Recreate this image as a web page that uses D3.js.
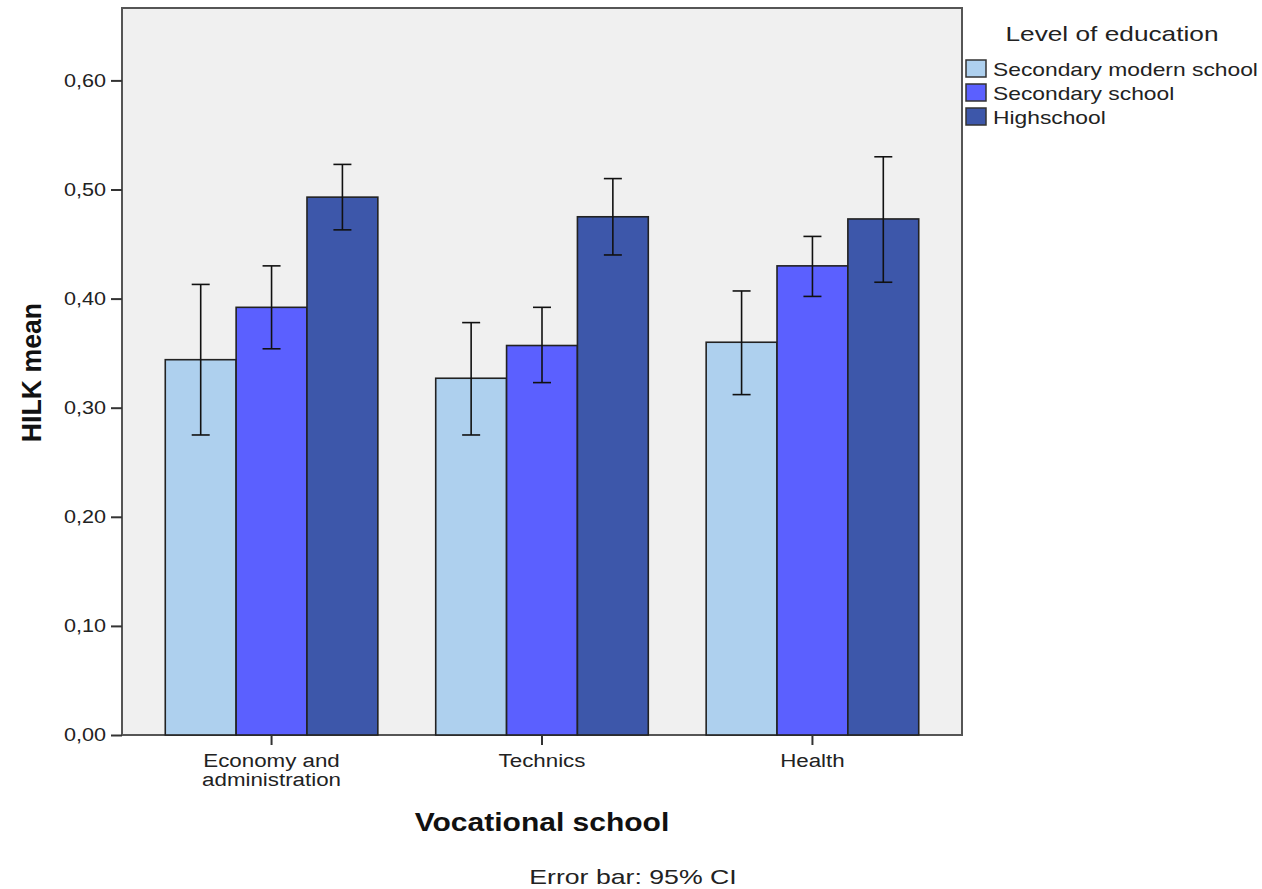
<!DOCTYPE html>
<html>
<head>
<meta charset="utf-8">
<script src="https://cdn.jsdelivr.net/npm/d3@7"></script>
<style>
  body { margin: 0; background: #fff; }
  svg { display: block; font-family: "Liberation Sans", Arial, sans-serif; }
</style>
</head>
<body>
<div id="chart"></div>
<script>
// chart data
var categories = ["Economy and administration", "Technics", "Health"];
var categoryLines = [["Economy and", "administration"], ["Technics"], ["Health"]];
var levels = ["Secondary modern school", "Secondary school", "Highschool"];
var colors = ["#aed0ee", "#5b60ff", "#3d57aa"];

// means per level, one value per category
var meanModern = [0.344, 0.327, 0.360];
var meanSecondary = [0.392, 0.357, 0.430];
var meanHigh = [0.493, 0.475, 0.473];
// 95% CI lower / upper
var lowModern = [0.275, 0.275, 0.312];
var highModern = [0.413, 0.378, 0.407];
var lowSecondary = [0.354, 0.323, 0.402];
var highSecondary = [0.430, 0.392, 0.457];
var lowHigh = [0.463, 0.440, 0.415];
var highHigh = [0.523, 0.510, 0.530];

var yTicks = [0, 0.1, 0.2, 0.3, 0.4, 0.5, 0.6];

var means = [meanModern, meanSecondary, meanHigh];
var lows = [lowModern, lowSecondary, lowHigh];
var highs = [highModern, highSecondary, highHigh];

var data = [];
categories.forEach(function(c, ci) {
  levels.forEach(function(l, li) {
    data.push({cat: c, level: l, li: li, mean: means[li][ci], lo: lows[li][ci], hi: highs[li][ci]});
  });
});

var W = 1262, H = 889;
var plot = {left: 122, right: 962, top: 8, bottom: 735};

// the original text is drawn wide, widen ours the same way
function stretch(sel, k) {
  sel.each(function() {
    var len = this.getComputedTextLength();
    d3.select(this).attr("textLength", len * k).attr("lengthAdjust", "spacingAndGlyphs");
  });
}

var svg = d3.select("#chart").append("svg")
  .attr("width", W).attr("height", H);

var x = d3.scaleBand()
  .domain(categories)
  .range([plot.left, plot.right])
  .paddingInner(0.214)
  .paddingOuter(0.16);
var xi = d3.scaleBand()
  .domain(levels)
  .range([0, x.bandwidth()]);
var y = d3.scaleLinear()
  .domain([0, 0.6])
  .range([plot.bottom, plot.bottom - 6 * 109.1]);

var fmt = d3.formatLocale({decimal: ",", thousands: ".", grouping: [3], currency: ["", ""]}).format(".2f");

// plot background
svg.append("rect")
  .attr("x", plot.left).attr("y", plot.top)
  .attr("width", plot.right - plot.left)
  .attr("height", plot.bottom - plot.top)
  .attr("fill", "#f0f0f0")
  .attr("stroke", "#555").attr("stroke-width", 2);

// bars
svg.append("g").selectAll("rect")
  .data(data)
  .enter().append("rect")
  .attr("x", function(d) { return x(d.cat) + xi(d.level); })
  .attr("y", function(d) { return y(d.mean); })
  .attr("width", xi.bandwidth())
  .attr("height", function(d) { return y(0) - y(d.mean); })
  .attr("fill", function(d) { return colors[d.li]; })
  .attr("stroke", "#222").attr("stroke-width", 1.6);

// error bars
var eb = svg.append("g").attr("stroke", "#111").attr("stroke-width", 1.6)
  .selectAll("g").data(data).enter().append("g")
  .attr("transform", function(d) { return "translate(" + (x(d.cat) + xi(d.level) + xi.bandwidth() / 2) + ",0)"; });
eb.append("line")
  .attr("x1", 0).attr("x2", 0)
  .attr("y1", function(d) { return y(d.lo); })
  .attr("y2", function(d) { return y(d.hi); });
eb.append("line")
  .attr("x1", -9).attr("x2", 9)
  .attr("y1", function(d) { return y(d.hi); })
  .attr("y2", function(d) { return y(d.hi); });
eb.append("line")
  .attr("x1", -9).attr("x2", 9)
  .attr("y1", function(d) { return y(d.lo); })
  .attr("y2", function(d) { return y(d.lo); });

// y axis
var yAxis = svg.append("g")
  .attr("transform", "translate(" + plot.left + ",0)")
  .call(d3.axisLeft(y).tickValues(yTicks).tickFormat(fmt).tickSize(11).tickPadding(5));
yAxis.select(".domain").remove();
yAxis.selectAll("line").attr("stroke", "#333").attr("stroke-width", 2);
yAxis.selectAll("text").attr("font-size", 18).attr("fill", "#222")
  .attr("font-family", "\"Liberation Sans\", Arial, sans-serif")
  .call(stretch, 1.2);

// x axis
var xAxis = svg.append("g")
  .attr("transform", "translate(0," + plot.bottom + ")")
  .call(d3.axisBottom(x).tickSize(10).tickFormat(""));
xAxis.select(".domain").remove();
xAxis.selectAll("line").attr("stroke", "#333").attr("stroke-width", 2);
var xl = svg.append("g").selectAll("g")
  .data(categories).enter().append("g");
xl.selectAll("text")
  .data(function(d, i) { return categoryLines[i].map(function(t) { return {cat: d, t: t}; }); })
  .enter().append("text")
  .attr("x", function(d) { return x(d.cat) + x.bandwidth() / 2; })
  .attr("y", function(d, i) { return plot.bottom + 32 + i * 19; })
  .attr("text-anchor", "middle")
  .attr("font-size", 18).attr("fill", "#222")
  .text(function(d) { return d.t; })
  .call(stretch, 1.24);

// axis titles
svg.append("text")
  .attr("transform", "translate(41," + ((plot.top + plot.bottom) / 2 + 1) + ") scale(1.2,1) rotate(-90)")
  .attr("text-anchor", "middle")
  .attr("font-size", 23).attr("font-weight", "bold").attr("fill", "#111")
  .text("HILK mean")
  .call(stretch, 1.16);
svg.append("text")
  .attr("x", x(categories[1]) + x.bandwidth() / 2)
  .attr("y", 831)
  .attr("text-anchor", "middle")
  .attr("font-size", 25).attr("font-weight", "bold").attr("fill", "#111")
  .text("Vocational school")
  .call(stretch, 1.2);
svg.append("text")
  .attr("x", 633).attr("y", 884)
  .attr("text-anchor", "middle")
  .attr("font-size", 21).attr("fill", "#222")
  .text("Error bar: 95% CI")
  .call(stretch, 1.27);

// legend
var legend = svg.append("g");
legend.append("text")
  .attr("x", 1112).attr("y", 41)
  .attr("text-anchor", "middle")
  .attr("font-size", 21).attr("fill", "#222")
  .text("Level of education")
  .call(stretch, 1.25);
var li = legend.selectAll("g.item").data(levels).enter().append("g")
  .attr("class", "item")
  .attr("transform", function(d, i) { return "translate(966," + (60 + i * 24) + ")"; });
li.append("rect")
  .attr("width", 20).attr("height", 17)
  .attr("fill", function(d, i) { return colors[i]; })
  .attr("stroke", "#333").attr("stroke-width", 1.5);
li.append("text")
  .attr("x", 27).attr("y", 16)
  .attr("font-size", 19).attr("fill", "#222")
  .text(function(d) { return d; })
  .call(stretch, 1.2);
</script>
</body>
</html>
